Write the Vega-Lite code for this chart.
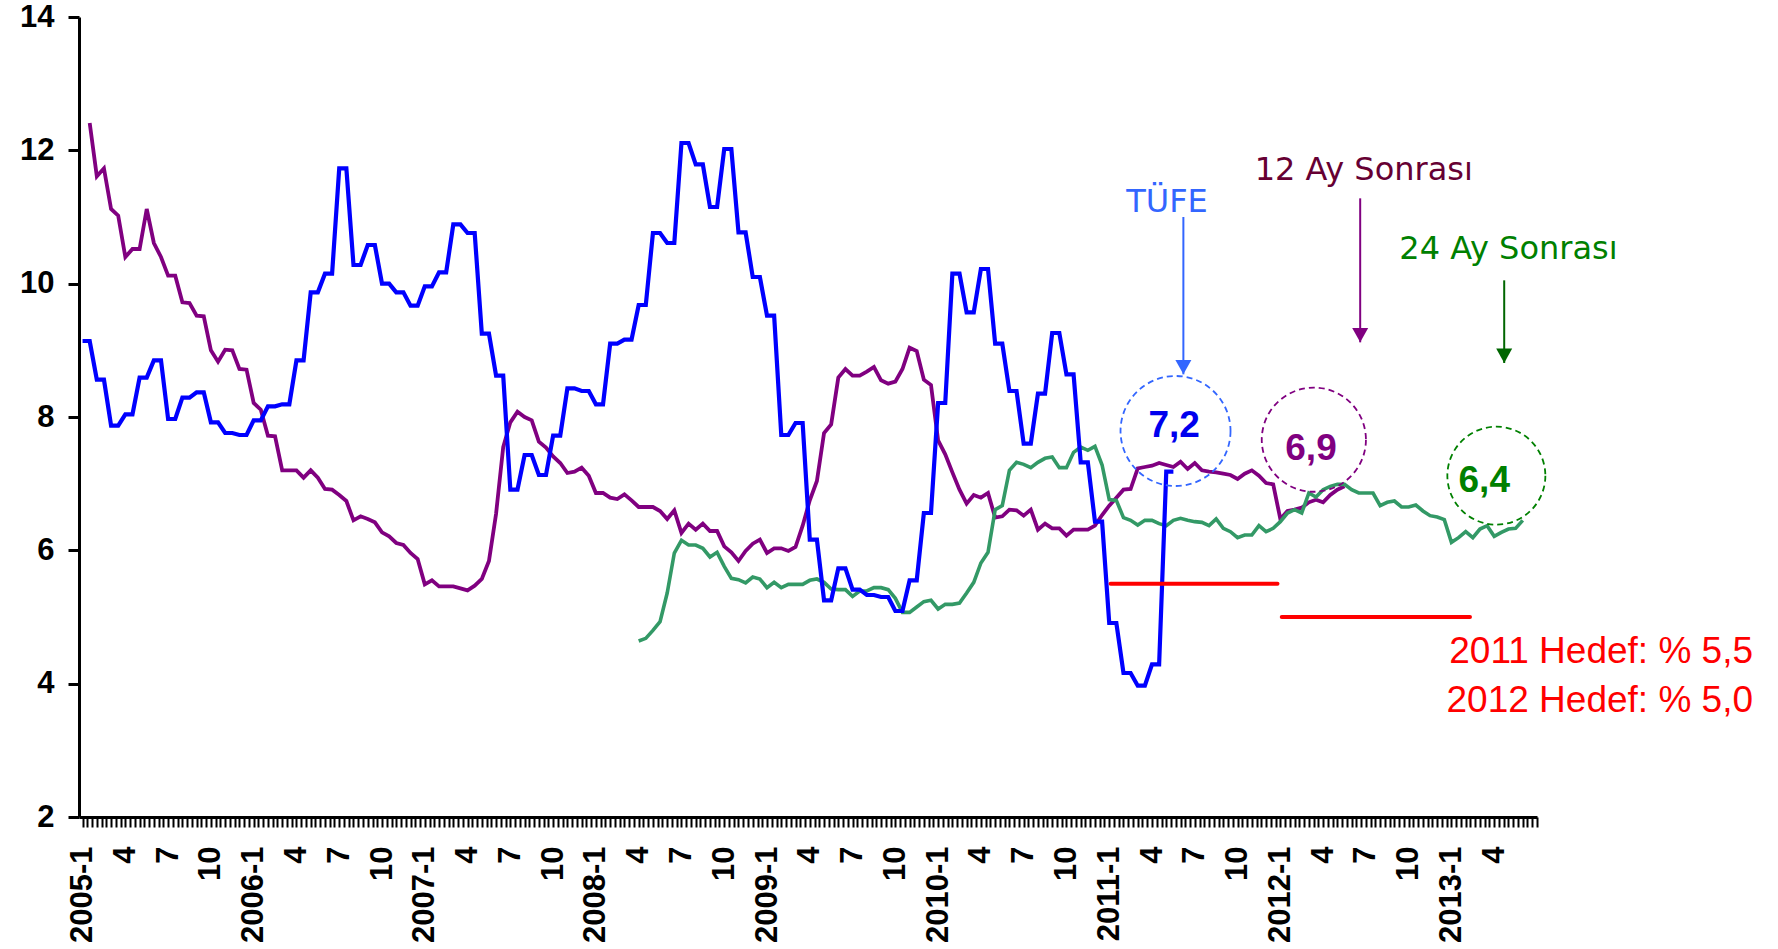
{
  "$schema": "https://vega.github.io/schema/vega-lite/v6.json",
  "width": 1458,
  "height": 800,
  "autosize": {"type": "none"},
  "padding": {"left": 79, "top": 17, "right": 241, "bottom": 132},
  "background": "white",
  "config": {"view": {"stroke": null}},
  "datasets": {
    "seriler": [
      {"seri":"TÜFE","k":0,"v":9.14},{"seri":"TÜFE","k":1,"v":9.14},{"seri":"TÜFE","k":2,"v":8.56},{"seri":"TÜFE","k":3,"v":8.56},{"seri":"TÜFE","k":4,"v":7.87},{"seri":"TÜFE","k":5,"v":7.87},{"seri":"TÜFE","k":6,"v":8.04},{"seri":"TÜFE","k":7,"v":8.04},{"seri":"TÜFE","k":8,"v":8.59},{"seri":"TÜFE","k":9,"v":8.59},{"seri":"TÜFE","k":10,"v":8.85},{"seri":"TÜFE","k":11,"v":8.85},{"seri":"TÜFE","k":12,"v":7.97},{"seri":"TÜFE","k":13,"v":7.97},{"seri":"TÜFE","k":14,"v":8.29},{"seri":"TÜFE","k":15,"v":8.29},{"seri":"TÜFE","k":16,"v":8.37},{"seri":"TÜFE","k":17,"v":8.37},{"seri":"TÜFE","k":18,"v":7.92},{"seri":"TÜFE","k":19,"v":7.92},{"seri":"TÜFE","k":20,"v":7.76},{"seri":"TÜFE","k":21,"v":7.76},{"seri":"TÜFE","k":22,"v":7.73},{"seri":"TÜFE","k":23,"v":7.73},{"seri":"TÜFE","k":24,"v":7.95},{"seri":"TÜFE","k":25,"v":7.95},{"seri":"TÜFE","k":26,"v":8.16},{"seri":"TÜFE","k":27,"v":8.16},{"seri":"TÜFE","k":28,"v":8.19},{"seri":"TÜFE","k":29,"v":8.19},{"seri":"TÜFE","k":30,"v":8.85},{"seri":"TÜFE","k":31,"v":8.85},{"seri":"TÜFE","k":32,"v":9.87},{"seri":"TÜFE","k":33,"v":9.87},{"seri":"TÜFE","k":34,"v":10.15},{"seri":"TÜFE","k":35,"v":10.15},{"seri":"TÜFE","k":36,"v":11.73},{"seri":"TÜFE","k":37,"v":11.73},{"seri":"TÜFE","k":38,"v":10.28},{"seri":"TÜFE","k":39,"v":10.28},{"seri":"TÜFE","k":40,"v":10.58},{"seri":"TÜFE","k":41,"v":10.58},{"seri":"TÜFE","k":42,"v":10.0},{"seri":"TÜFE","k":43,"v":10.0},{"seri":"TÜFE","k":44,"v":9.87},{"seri":"TÜFE","k":45,"v":9.87},{"seri":"TÜFE","k":46,"v":9.67},{"seri":"TÜFE","k":47,"v":9.67},{"seri":"TÜFE","k":48,"v":9.96},{"seri":"TÜFE","k":49,"v":9.96},{"seri":"TÜFE","k":50,"v":10.17},{"seri":"TÜFE","k":51,"v":10.17},{"seri":"TÜFE","k":52,"v":10.89},{"seri":"TÜFE","k":53,"v":10.89},{"seri":"TÜFE","k":54,"v":10.76},{"seri":"TÜFE","k":55,"v":10.76},{"seri":"TÜFE","k":56,"v":9.25},{"seri":"TÜFE","k":57,"v":9.25},{"seri":"TÜFE","k":58,"v":8.62},{"seri":"TÜFE","k":59,"v":8.62},{"seri":"TÜFE","k":60,"v":6.91},{"seri":"TÜFE","k":61,"v":6.91},{"seri":"TÜFE","k":62,"v":7.43},{"seri":"TÜFE","k":63,"v":7.43},{"seri":"TÜFE","k":64,"v":7.13},{"seri":"TÜFE","k":65,"v":7.13},{"seri":"TÜFE","k":66,"v":7.72},{"seri":"TÜFE","k":67,"v":7.72},{"seri":"TÜFE","k":68,"v":8.43},{"seri":"TÜFE","k":69,"v":8.43},{"seri":"TÜFE","k":70,"v":8.39},{"seri":"TÜFE","k":71,"v":8.39},{"seri":"TÜFE","k":72,"v":8.19},{"seri":"TÜFE","k":73,"v":8.19},{"seri":"TÜFE","k":74,"v":9.1},{"seri":"TÜFE","k":75,"v":9.1},{"seri":"TÜFE","k":76,"v":9.16},{"seri":"TÜFE","k":77,"v":9.16},{"seri":"TÜFE","k":78,"v":9.68},{"seri":"TÜFE","k":79,"v":9.68},{"seri":"TÜFE","k":80,"v":10.76},{"seri":"TÜFE","k":81,"v":10.76},{"seri":"TÜFE","k":82,"v":10.61},{"seri":"TÜFE","k":83,"v":10.61},{"seri":"TÜFE","k":84,"v":12.11},{"seri":"TÜFE","k":85,"v":12.11},{"seri":"TÜFE","k":86,"v":11.79},{"seri":"TÜFE","k":87,"v":11.79},{"seri":"TÜFE","k":88,"v":11.15},{"seri":"TÜFE","k":89,"v":11.15},{"seri":"TÜFE","k":90,"v":12.02},{"seri":"TÜFE","k":91,"v":12.02},{"seri":"TÜFE","k":92,"v":10.77},{"seri":"TÜFE","k":93,"v":10.77},{"seri":"TÜFE","k":94,"v":10.1},{"seri":"TÜFE","k":95,"v":10.1},{"seri":"TÜFE","k":96,"v":9.52},{"seri":"TÜFE","k":97,"v":9.52},{"seri":"TÜFE","k":98,"v":7.73},{"seri":"TÜFE","k":99,"v":7.73},{"seri":"TÜFE","k":100,"v":7.91},{"seri":"TÜFE","k":101,"v":7.91},{"seri":"TÜFE","k":102,"v":6.16},{"seri":"TÜFE","k":103,"v":6.16},{"seri":"TÜFE","k":104,"v":5.25},{"seri":"TÜFE","k":105,"v":5.25},{"seri":"TÜFE","k":106,"v":5.73},{"seri":"TÜFE","k":107,"v":5.73},{"seri":"TÜFE","k":108,"v":5.41},{"seri":"TÜFE","k":109,"v":5.41},{"seri":"TÜFE","k":110,"v":5.33},{"seri":"TÜFE","k":111,"v":5.33},{"seri":"TÜFE","k":112,"v":5.3},{"seri":"TÜFE","k":113,"v":5.3},{"seri":"TÜFE","k":114,"v":5.09},{"seri":"TÜFE","k":115,"v":5.09},{"seri":"TÜFE","k":116,"v":5.55},{"seri":"TÜFE","k":117,"v":5.55},{"seri":"TÜFE","k":118,"v":6.56},{"seri":"TÜFE","k":119,"v":6.56},{"seri":"TÜFE","k":120,"v":8.21},{"seri":"TÜFE","k":121,"v":8.21},{"seri":"TÜFE","k":122,"v":10.15},{"seri":"TÜFE","k":123,"v":10.15},{"seri":"TÜFE","k":124,"v":9.57},{"seri":"TÜFE","k":125,"v":9.57},{"seri":"TÜFE","k":126,"v":10.22},{"seri":"TÜFE","k":127,"v":10.22},{"seri":"TÜFE","k":128,"v":9.1},{"seri":"TÜFE","k":129,"v":9.1},{"seri":"TÜFE","k":130,"v":8.39},{"seri":"TÜFE","k":131,"v":8.39},{"seri":"TÜFE","k":132,"v":7.6},{"seri":"TÜFE","k":133,"v":7.6},{"seri":"TÜFE","k":134,"v":8.35},{"seri":"TÜFE","k":135,"v":8.35},{"seri":"TÜFE","k":136,"v":9.26},{"seri":"TÜFE","k":137,"v":9.26},{"seri":"TÜFE","k":138,"v":8.64},{"seri":"TÜFE","k":139,"v":8.64},{"seri":"TÜFE","k":140,"v":7.32},{"seri":"TÜFE","k":141,"v":7.32},{"seri":"TÜFE","k":142,"v":6.43},{"seri":"TÜFE","k":143,"v":6.43},{"seri":"TÜFE","k":144,"v":4.91},{"seri":"TÜFE","k":145,"v":4.91},{"seri":"TÜFE","k":146,"v":4.16},{"seri":"TÜFE","k":147,"v":4.16},{"seri":"TÜFE","k":148,"v":3.97},{"seri":"TÜFE","k":149,"v":3.97},{"seri":"TÜFE","k":150,"v":4.29},{"seri":"TÜFE","k":151,"v":4.29},{"seri":"TÜFE","k":152,"v":7.18},{"seri":"TÜFE","k":153,"v":7.18},
      {"seri":"12 Ay Sonrası","k":1,"v":12.41},{"seri":"12 Ay Sonrası","k":2,"v":11.61},{"seri":"12 Ay Sonrası","k":3,"v":11.73},{"seri":"12 Ay Sonrası","k":4,"v":11.12},{"seri":"12 Ay Sonrası","k":5,"v":11.02},{"seri":"12 Ay Sonrası","k":6,"v":10.4},{"seri":"12 Ay Sonrası","k":7,"v":10.52},{"seri":"12 Ay Sonrası","k":8,"v":10.52},{"seri":"12 Ay Sonrası","k":9,"v":11.12},{"seri":"12 Ay Sonrası","k":10,"v":10.61},{"seri":"12 Ay Sonrası","k":11,"v":10.4},{"seri":"12 Ay Sonrası","k":12,"v":10.12},{"seri":"12 Ay Sonrası","k":13,"v":10.12},{"seri":"12 Ay Sonrası","k":14,"v":9.72},{"seri":"12 Ay Sonrası","k":15,"v":9.71},{"seri":"12 Ay Sonrası","k":16,"v":9.52},{"seri":"12 Ay Sonrası","k":17,"v":9.51},{"seri":"12 Ay Sonrası","k":18,"v":9.0},{"seri":"12 Ay Sonrası","k":19,"v":8.83},{"seri":"12 Ay Sonrası","k":20,"v":9.01},{"seri":"12 Ay Sonrası","k":21,"v":9.0},{"seri":"12 Ay Sonrası","k":22,"v":8.72},{"seri":"12 Ay Sonrası","k":23,"v":8.71},{"seri":"12 Ay Sonrası","k":24,"v":8.21},{"seri":"12 Ay Sonrası","k":25,"v":8.11},{"seri":"12 Ay Sonrası","k":26,"v":7.72},{"seri":"12 Ay Sonrası","k":27,"v":7.71},{"seri":"12 Ay Sonrası","k":28,"v":7.2},{"seri":"12 Ay Sonrası","k":29,"v":7.2},{"seri":"12 Ay Sonrası","k":30,"v":7.2},{"seri":"12 Ay Sonrası","k":31,"v":7.09},{"seri":"12 Ay Sonrası","k":32,"v":7.2},{"seri":"12 Ay Sonrası","k":33,"v":7.09},{"seri":"12 Ay Sonrası","k":34,"v":6.92},{"seri":"12 Ay Sonrası","k":35,"v":6.91},{"seri":"12 Ay Sonrası","k":36,"v":6.83},{"seri":"12 Ay Sonrası","k":37,"v":6.74},{"seri":"12 Ay Sonrası","k":38,"v":6.45},{"seri":"12 Ay Sonrası","k":39,"v":6.51},{"seri":"12 Ay Sonrası","k":40,"v":6.47},{"seri":"12 Ay Sonrası","k":41,"v":6.42},{"seri":"12 Ay Sonrası","k":42,"v":6.27},{"seri":"12 Ay Sonrası","k":43,"v":6.21},{"seri":"12 Ay Sonrası","k":44,"v":6.11},{"seri":"12 Ay Sonrası","k":45,"v":6.08},{"seri":"12 Ay Sonrası","k":46,"v":5.96},{"seri":"12 Ay Sonrası","k":47,"v":5.87},{"seri":"12 Ay Sonrası","k":48,"v":5.49},{"seri":"12 Ay Sonrası","k":49,"v":5.55},{"seri":"12 Ay Sonrası","k":50,"v":5.46},{"seri":"12 Ay Sonrası","k":51,"v":5.46},{"seri":"12 Ay Sonrası","k":52,"v":5.46},{"seri":"12 Ay Sonrası","k":53,"v":5.43},{"seri":"12 Ay Sonrası","k":54,"v":5.4},{"seri":"12 Ay Sonrası","k":55,"v":5.47},{"seri":"12 Ay Sonrası","k":56,"v":5.57},{"seri":"12 Ay Sonrası","k":57,"v":5.84},{"seri":"12 Ay Sonrası","k":58,"v":6.55},{"seri":"12 Ay Sonrası","k":59,"v":7.55},{"seri":"12 Ay Sonrası","k":60,"v":7.92},{"seri":"12 Ay Sonrası","k":61,"v":8.08},{"seri":"12 Ay Sonrası","k":62,"v":8.0},{"seri":"12 Ay Sonrası","k":63,"v":7.95},{"seri":"12 Ay Sonrası","k":64,"v":7.63},{"seri":"12 Ay Sonrası","k":65,"v":7.54},{"seri":"12 Ay Sonrası","k":66,"v":7.41},{"seri":"12 Ay Sonrası","k":67,"v":7.31},{"seri":"12 Ay Sonrası","k":68,"v":7.16},{"seri":"12 Ay Sonrası","k":69,"v":7.18},{"seri":"12 Ay Sonrası","k":70,"v":7.24},{"seri":"12 Ay Sonrası","k":71,"v":7.12},{"seri":"12 Ay Sonrası","k":72,"v":6.86},{"seri":"12 Ay Sonrası","k":73,"v":6.86},{"seri":"12 Ay Sonrası","k":74,"v":6.79},{"seri":"12 Ay Sonrası","k":75,"v":6.77},{"seri":"12 Ay Sonrası","k":76,"v":6.84},{"seri":"12 Ay Sonrası","k":77,"v":6.75},{"seri":"12 Ay Sonrası","k":78,"v":6.65},{"seri":"12 Ay Sonrası","k":79,"v":6.65},{"seri":"12 Ay Sonrası","k":80,"v":6.65},{"seri":"12 Ay Sonrası","k":81,"v":6.59},{"seri":"12 Ay Sonrası","k":82,"v":6.47},{"seri":"12 Ay Sonrası","k":83,"v":6.6},{"seri":"12 Ay Sonrası","k":84,"v":6.26},{"seri":"12 Ay Sonrası","k":85,"v":6.4},{"seri":"12 Ay Sonrası","k":86,"v":6.31},{"seri":"12 Ay Sonrası","k":87,"v":6.4},{"seri":"12 Ay Sonrası","k":88,"v":6.29},{"seri":"12 Ay Sonrası","k":89,"v":6.29},{"seri":"12 Ay Sonrası","k":90,"v":6.06},{"seri":"12 Ay Sonrası","k":91,"v":5.97},{"seri":"12 Ay Sonrası","k":92,"v":5.84},{"seri":"12 Ay Sonrası","k":93,"v":5.99},{"seri":"12 Ay Sonrası","k":94,"v":6.1},{"seri":"12 Ay Sonrası","k":95,"v":6.16},{"seri":"12 Ay Sonrası","k":96,"v":5.96},{"seri":"12 Ay Sonrası","k":97,"v":6.03},{"seri":"12 Ay Sonrası","k":98,"v":6.03},{"seri":"12 Ay Sonrası","k":99,"v":5.99},{"seri":"12 Ay Sonrası","k":100,"v":6.05},{"seri":"12 Ay Sonrası","k":101,"v":6.37},{"seri":"12 Ay Sonrası","k":102,"v":6.75},{"seri":"12 Ay Sonrası","k":103,"v":7.04},{"seri":"12 Ay Sonrası","k":104,"v":7.76},{"seri":"12 Ay Sonrası","k":105,"v":7.89},{"seri":"12 Ay Sonrası","k":106,"v":8.59},{"seri":"12 Ay Sonrası","k":107,"v":8.72},{"seri":"12 Ay Sonrası","k":108,"v":8.62},{"seri":"12 Ay Sonrası","k":109,"v":8.62},{"seri":"12 Ay Sonrası","k":110,"v":8.68},{"seri":"12 Ay Sonrası","k":111,"v":8.75},{"seri":"12 Ay Sonrası","k":112,"v":8.55},{"seri":"12 Ay Sonrası","k":113,"v":8.5},{"seri":"12 Ay Sonrası","k":114,"v":8.53},{"seri":"12 Ay Sonrası","k":115,"v":8.72},{"seri":"12 Ay Sonrası","k":116,"v":9.04},{"seri":"12 Ay Sonrası","k":117,"v":8.99},{"seri":"12 Ay Sonrası","k":118,"v":8.56},{"seri":"12 Ay Sonrası","k":119,"v":8.48},{"seri":"12 Ay Sonrası","k":120,"v":7.65},{"seri":"12 Ay Sonrası","k":121,"v":7.44},{"seri":"12 Ay Sonrası","k":122,"v":7.17},{"seri":"12 Ay Sonrası","k":123,"v":6.91},{"seri":"12 Ay Sonrası","k":124,"v":6.7},{"seri":"12 Ay Sonrası","k":125,"v":6.83},{"seri":"12 Ay Sonrası","k":126,"v":6.79},{"seri":"12 Ay Sonrası","k":127,"v":6.86},{"seri":"12 Ay Sonrası","k":128,"v":6.49},{"seri":"12 Ay Sonrası","k":129,"v":6.51},{"seri":"12 Ay Sonrası","k":130,"v":6.61},{"seri":"12 Ay Sonrası","k":131,"v":6.6},{"seri":"12 Ay Sonrası","k":132,"v":6.52},{"seri":"12 Ay Sonrası","k":133,"v":6.61},{"seri":"12 Ay Sonrası","k":134,"v":6.31},{"seri":"12 Ay Sonrası","k":135,"v":6.4},{"seri":"12 Ay Sonrası","k":136,"v":6.33},{"seri":"12 Ay Sonrası","k":137,"v":6.33},{"seri":"12 Ay Sonrası","k":138,"v":6.22},{"seri":"12 Ay Sonrası","k":139,"v":6.31},{"seri":"12 Ay Sonrası","k":140,"v":6.31},{"seri":"12 Ay Sonrası","k":141,"v":6.31},{"seri":"12 Ay Sonrası","k":142,"v":6.37},{"seri":"12 Ay Sonrası","k":143,"v":6.53},{"seri":"12 Ay Sonrası","k":144,"v":6.67},{"seri":"12 Ay Sonrası","k":145,"v":6.79},{"seri":"12 Ay Sonrası","k":146,"v":6.91},{"seri":"12 Ay Sonrası","k":147,"v":6.92},{"seri":"12 Ay Sonrası","k":148,"v":7.23},{"seri":"12 Ay Sonrası","k":149,"v":7.25},{"seri":"12 Ay Sonrası","k":150,"v":7.27},{"seri":"12 Ay Sonrası","k":151,"v":7.31},{"seri":"12 Ay Sonrası","k":152,"v":7.28},{"seri":"12 Ay Sonrası","k":153,"v":7.25},{"seri":"12 Ay Sonrası","k":154,"v":7.33},{"seri":"12 Ay Sonrası","k":155,"v":7.22},{"seri":"12 Ay Sonrası","k":156,"v":7.31},{"seri":"12 Ay Sonrası","k":157,"v":7.2},{"seri":"12 Ay Sonrası","k":158,"v":7.18},{"seri":"12 Ay Sonrası","k":159,"v":7.17},{"seri":"12 Ay Sonrası","k":160,"v":7.15},{"seri":"12 Ay Sonrası","k":161,"v":7.13},{"seri":"12 Ay Sonrası","k":162,"v":7.07},{"seri":"12 Ay Sonrası","k":163,"v":7.15},{"seri":"12 Ay Sonrası","k":164,"v":7.2},{"seri":"12 Ay Sonrası","k":165,"v":7.12},{"seri":"12 Ay Sonrası","k":166,"v":7.01},{"seri":"12 Ay Sonrası","k":167,"v":6.99},{"seri":"12 Ay Sonrası","k":168,"v":6.47},{"seri":"12 Ay Sonrası","k":169,"v":6.59},{"seri":"12 Ay Sonrası","k":170,"v":6.61},{"seri":"12 Ay Sonrası","k":171,"v":6.64},{"seri":"12 Ay Sonrası","k":172,"v":6.72},{"seri":"12 Ay Sonrası","k":173,"v":6.76},{"seri":"12 Ay Sonrası","k":174,"v":6.72},{"seri":"12 Ay Sonrası","k":175,"v":6.83},{"seri":"12 Ay Sonrası","k":176,"v":6.91},{"seri":"12 Ay Sonrası","k":177,"v":6.96},
      {"seri":"24 Ay Sonrası","k":78,"v":4.64},{"seri":"24 Ay Sonrası","k":79,"v":4.68},{"seri":"24 Ay Sonrası","k":80,"v":4.8},{"seri":"24 Ay Sonrası","k":81,"v":4.93},{"seri":"24 Ay Sonrası","k":82,"v":5.36},{"seri":"24 Ay Sonrası","k":83,"v":5.96},{"seri":"24 Ay Sonrası","k":84,"v":6.15},{"seri":"24 Ay Sonrası","k":85,"v":6.08},{"seri":"24 Ay Sonrası","k":86,"v":6.08},{"seri":"24 Ay Sonrası","k":87,"v":6.03},{"seri":"24 Ay Sonrası","k":88,"v":5.9},{"seri":"24 Ay Sonrası","k":89,"v":5.97},{"seri":"24 Ay Sonrası","k":90,"v":5.76},{"seri":"24 Ay Sonrası","k":91,"v":5.58},{"seri":"24 Ay Sonrası","k":92,"v":5.56},{"seri":"24 Ay Sonrası","k":93,"v":5.51},{"seri":"24 Ay Sonrası","k":94,"v":5.6},{"seri":"24 Ay Sonrası","k":95,"v":5.57},{"seri":"24 Ay Sonrası","k":96,"v":5.44},{"seri":"24 Ay Sonrası","k":97,"v":5.52},{"seri":"24 Ay Sonrası","k":98,"v":5.44},{"seri":"24 Ay Sonrası","k":99,"v":5.49},{"seri":"24 Ay Sonrası","k":100,"v":5.49},{"seri":"24 Ay Sonrası","k":101,"v":5.49},{"seri":"24 Ay Sonrası","k":102,"v":5.55},{"seri":"24 Ay Sonrası","k":103,"v":5.57},{"seri":"24 Ay Sonrası","k":104,"v":5.52},{"seri":"24 Ay Sonrası","k":105,"v":5.42},{"seri":"24 Ay Sonrası","k":106,"v":5.41},{"seri":"24 Ay Sonrası","k":107,"v":5.41},{"seri":"24 Ay Sonrası","k":108,"v":5.31},{"seri":"24 Ay Sonrası","k":109,"v":5.39},{"seri":"24 Ay Sonrası","k":110,"v":5.39},{"seri":"24 Ay Sonrası","k":111,"v":5.44},{"seri":"24 Ay Sonrası","k":112,"v":5.44},{"seri":"24 Ay Sonrası","k":113,"v":5.41},{"seri":"24 Ay Sonrası","k":114,"v":5.28},{"seri":"24 Ay Sonrası","k":115,"v":5.07},{"seri":"24 Ay Sonrası","k":116,"v":5.07},{"seri":"24 Ay Sonrası","k":117,"v":5.15},{"seri":"24 Ay Sonrası","k":118,"v":5.23},{"seri":"24 Ay Sonrası","k":119,"v":5.25},{"seri":"24 Ay Sonrası","k":120,"v":5.12},{"seri":"24 Ay Sonrası","k":121,"v":5.19},{"seri":"24 Ay Sonrası","k":122,"v":5.19},{"seri":"24 Ay Sonrası","k":123,"v":5.21},{"seri":"24 Ay Sonrası","k":124,"v":5.36},{"seri":"24 Ay Sonrası","k":125,"v":5.52},{"seri":"24 Ay Sonrası","k":126,"v":5.81},{"seri":"24 Ay Sonrası","k":127,"v":5.97},{"seri":"24 Ay Sonrası","k":128,"v":6.61},{"seri":"24 Ay Sonrası","k":129,"v":6.67},{"seri":"24 Ay Sonrası","k":130,"v":7.2},{"seri":"24 Ay Sonrası","k":131,"v":7.32},{"seri":"24 Ay Sonrası","k":132,"v":7.29},{"seri":"24 Ay Sonrası","k":133,"v":7.24},{"seri":"24 Ay Sonrası","k":134,"v":7.32},{"seri":"24 Ay Sonrası","k":135,"v":7.38},{"seri":"24 Ay Sonrası","k":136,"v":7.4},{"seri":"24 Ay Sonrası","k":137,"v":7.24},{"seri":"24 Ay Sonrası","k":138,"v":7.24},{"seri":"24 Ay Sonrası","k":139,"v":7.47},{"seri":"24 Ay Sonrası","k":140,"v":7.55},{"seri":"24 Ay Sonrası","k":141,"v":7.5},{"seri":"24 Ay Sonrası","k":142,"v":7.56},{"seri":"24 Ay Sonrası","k":143,"v":7.28},{"seri":"24 Ay Sonrası","k":144,"v":6.76},{"seri":"24 Ay Sonrası","k":145,"v":6.75},{"seri":"24 Ay Sonrası","k":146,"v":6.49},{"seri":"24 Ay Sonrası","k":147,"v":6.45},{"seri":"24 Ay Sonrası","k":148,"v":6.38},{"seri":"24 Ay Sonrası","k":149,"v":6.45},{"seri":"24 Ay Sonrası","k":150,"v":6.45},{"seri":"24 Ay Sonrası","k":151,"v":6.4},{"seri":"24 Ay Sonrası","k":152,"v":6.37},{"seri":"24 Ay Sonrası","k":153,"v":6.45},{"seri":"24 Ay Sonrası","k":154,"v":6.48},{"seri":"24 Ay Sonrası","k":155,"v":6.45},{"seri":"24 Ay Sonrası","k":156,"v":6.43},{"seri":"24 Ay Sonrası","k":157,"v":6.42},{"seri":"24 Ay Sonrası","k":158,"v":6.37},{"seri":"24 Ay Sonrası","k":159,"v":6.47},{"seri":"24 Ay Sonrası","k":160,"v":6.33},{"seri":"24 Ay Sonrası","k":161,"v":6.28},{"seri":"24 Ay Sonrası","k":162,"v":6.19},{"seri":"24 Ay Sonrası","k":163,"v":6.23},{"seri":"24 Ay Sonrası","k":164,"v":6.23},{"seri":"24 Ay Sonrası","k":165,"v":6.37},{"seri":"24 Ay Sonrası","k":166,"v":6.28},{"seri":"24 Ay Sonrası","k":167,"v":6.33},{"seri":"24 Ay Sonrası","k":168,"v":6.43},{"seri":"24 Ay Sonrası","k":169,"v":6.56},{"seri":"24 Ay Sonrası","k":170,"v":6.61},{"seri":"24 Ay Sonrası","k":171,"v":6.56},{"seri":"24 Ay Sonrası","k":172,"v":6.86},{"seri":"24 Ay Sonrası","k":173,"v":6.8},{"seri":"24 Ay Sonrası","k":174,"v":6.91},{"seri":"24 Ay Sonrası","k":175,"v":6.96},{"seri":"24 Ay Sonrası","k":176,"v":6.99},{"seri":"24 Ay Sonrası","k":177,"v":6.99},{"seri":"24 Ay Sonrası","k":178,"v":6.91},{"seri":"24 Ay Sonrası","k":179,"v":6.86},{"seri":"24 Ay Sonrası","k":180,"v":6.86},{"seri":"24 Ay Sonrası","k":181,"v":6.86},{"seri":"24 Ay Sonrası","k":182,"v":6.67},{"seri":"24 Ay Sonrası","k":183,"v":6.72},{"seri":"24 Ay Sonrası","k":184,"v":6.74},{"seri":"24 Ay Sonrası","k":185,"v":6.65},{"seri":"24 Ay Sonrası","k":186,"v":6.65},{"seri":"24 Ay Sonrası","k":187,"v":6.68},{"seri":"24 Ay Sonrası","k":188,"v":6.59},{"seri":"24 Ay Sonrası","k":189,"v":6.52},{"seri":"24 Ay Sonrası","k":190,"v":6.5},{"seri":"24 Ay Sonrası","k":191,"v":6.46},{"seri":"24 Ay Sonrası","k":192,"v":6.12},{"seri":"24 Ay Sonrası","k":193,"v":6.19},{"seri":"24 Ay Sonrası","k":194,"v":6.28},{"seri":"24 Ay Sonrası","k":195,"v":6.19},{"seri":"24 Ay Sonrası","k":196,"v":6.32},{"seri":"24 Ay Sonrası","k":197,"v":6.37},{"seri":"24 Ay Sonrası","k":198,"v":6.21},{"seri":"24 Ay Sonrası","k":199,"v":6.27},{"seri":"24 Ay Sonrası","k":200,"v":6.32},{"seri":"24 Ay Sonrası","k":201,"v":6.33},{"seri":"24 Ay Sonrası","k":202,"v":6.45}
    ],
    "hedefler": [
      {"yil":"2011","k":144.2,"v":5.5},{"yil":"2011","k":167.6,"v":5.5},
      {"yil":"2012","k":168.2,"v":5.0},{"yil":"2012","k":194.6,"v":5.0}
    ],
    "hedef_notlari": [
      {"metin":"2011 Hedef: % 5,5","k":234.3,"v":4.315},
      {"metin":"2012 Hedef: % 5,0","k":234.3,"v":3.58}
    ],
    "etiketler": [
      {"seri":"TÜFE","metin":"TÜFE","k":152.1,"v":11.23},
      {"seri":"12 Ay Sonrası","metin":"12 Ay Sonrası","k":179.7,"v":11.7},
      {"seri":"24 Ay Sonrası","metin":"24 Ay Sonrası","k":200.0,"v":10.52}
    ],
    "degerler": [
      {"seri":"TÜFE","metin":"7,2","k":153.1,"v":7.86},
      {"seri":"12 Ay Sonrası","metin":"6,9","k":172.3,"v":7.52},
      {"seri":"24 Ay Sonrası","metin":"6,4","k":196.6,"v":7.04}
    ],
    "halkalar": [
      {"seri":"TÜFE","k":153.3,"v":7.79},
      {"seri":"12 Ay Sonrası","k":172.7,"v":7.66},
      {"seri":"24 Ay Sonrası","k":198.3,"v":7.12}
    ],
    "oklar": [
      {"seri":"TÜFE","k":154.4,"v":11.0,"v2":8.64},
      {"seri":"12 Ay Sonrası","k":179.2,"v":11.28,"v2":9.12},
      {"seri":"24 Ay Sonrası","k":199.4,"v":10.05,"v2":8.81}
    ],
    "ok_uclari": [
      {"seri":"TÜFE","k":154.4,"v":8.64},
      {"seri":"12 Ay Sonrası","k":179.2,"v":9.12},
      {"seri":"24 Ay Sonrası","k":199.4,"v":8.81}
    ]
  },
  "encoding": {
    "x": {
      "field": "k", "type": "quantitative",
      "scale": {"domain": [-0.5, 204], "nice": false, "zero": false},
      "axis": {
        "title": null, "grid": false,
        "values": [0,0.667,1.333,2,2.667,3.333,4,4.667,5.333,6,6.667,7.333,8,8.667,9.333,10,10.667,11.333,12,12.667,13.333,14,14.667,15.333,16,16.667,17.333,18,18.667,19.333,20,20.667,21.333,22,22.667,23.333,24,24.667,25.333,26,26.667,27.333,28,28.667,29.333,30,30.667,31.333,32,32.667,33.333,34,34.667,35.333,36,36.667,37.333,38,38.667,39.333,40,40.667,41.333,42,42.667,43.333,44,44.667,45.333,46,46.667,47.333,48,48.667,49.333,50,50.667,51.333,52,52.667,53.333,54,54.667,55.333,56,56.667,57.333,58,58.667,59.333,60,60.667,61.333,62,62.667,63.333,64,64.667,65.333,66,66.667,67.333,68,68.667,69.333,70,70.667,71.333,72,72.667,73.333,74,74.667,75.333,76,76.667,77.333,78,78.667,79.333,80,80.667,81.333,82,82.667,83.333,84,84.667,85.333,86,86.667,87.333,88,88.667,89.333,90,90.667,91.333,92,92.667,93.333,94,94.667,95.333,96,96.667,97.333,98,98.667,99.333,100,100.667,101.333,102,102.667,103.333,104,104.667,105.333,106,106.667,107.333,108,108.667,109.333,110,110.667,111.333,112,112.667,113.333,114,114.667,115.333,116,116.667,117.333,118,118.667,119.333,120,120.667,121.333,122,122.667,123.333,124,124.667,125.333,126,126.667,127.333,128,128.667,129.333,130,130.667,131.333,132,132.667,133.333,134,134.667,135.333,136,136.667,137.333,138,138.667,139.333,140,140.667,141.333,142,142.667,143.333,144,144.667,145.333,146,146.667,147.333,148,148.667,149.333,150,150.667,151.333,152,152.667,153.333,154,154.667,155.333,156,156.667,157.333,158,158.667,159.333,160,160.667,161.333,162,162.667,163.333,164,164.667,165.333,166,166.667,167.333,168,168.667,169.333,170,170.667,171.333,172,172.667,173.333,174,174.667,175.333,176,176.667,177.333,178,178.667,179.333,180,180.667,181.333,182,182.667,183.333,184,184.667,185.333,186,186.667,187.333,188,188.667,189.333,190,190.667,191.333,192,192.667,193.333,194,194.667,195.333,196,196.667,197.333,198,198.667,199.333,200,200.667,201.333,202,202.667,203.333,204],
        "labelExpr": "(datum.value % 6 == 0 && datum.value <= 198) ? (((datum.value / 2) % 12 == 0) ? ((2005 + floor(datum.value / 24)) + '-1') : ('' + ((datum.value / 2) % 12 + 1))) : ''",
        "labelAngle": 270, "labelAlign": "right", "labelBaseline": "middle",
        "labelOverlap": false, "labelFlush": false, "labelBound": false,
        "labelFont": "Liberation Sans", "labelFontWeight": "bold", "labelFontSize": 31, "labelColor": "black",
        "labelPadding": 19,
        "tickSize": 10, "tickWidth": 2, "tickColor": "black",
        "domainWidth": 3, "domainColor": "black"
      }
    },
    "y": {
      "field": "v", "type": "quantitative",
      "scale": {"domain": [2, 14], "nice": false, "zero": false},
      "axis": {
        "title": null, "grid": false,
        "values": [2, 4, 6, 8, 10, 12, 14],
        "labelFont": "Liberation Sans", "labelFontWeight": "bold", "labelFontSize": 31, "labelColor": "black",
        "labelPadding": 14, "labelFlush": false,
        "tickSize": 11, "tickWidth": 3, "tickColor": "black",
        "domainWidth": 3, "domainColor": "black"
      }
    }
  },
  "layer": [
    {
      "data": {"name": "seriler"},
      "transform": [{"filter": "datum.seri == '12 Ay Sonrası'"}],
      "mark": {"type": "line", "color": "#800080", "strokeWidth": 3.8},
      "encoding": {"order": {"field": "k", "type": "quantitative"}}
    },
    {
      "data": {"name": "seriler"},
      "transform": [{"filter": "datum.seri == '24 Ay Sonrası'"}],
      "mark": {"type": "line", "color": "#339966", "strokeWidth": 3.6},
      "encoding": {"order": {"field": "k", "type": "quantitative"}}
    },
    {
      "data": {"name": "seriler"},
      "transform": [{"filter": "datum.seri == 'TÜFE'"}],
      "mark": {"type": "line", "color": "#0000FF", "strokeWidth": 4.2},
      "encoding": {"order": {"field": "k", "type": "quantitative"}}
    },
    {
      "data": {"name": "hedefler"},
      "mark": {"type": "line", "color": "#FF0000", "strokeWidth": 4, "strokeCap": "round"},
      "encoding": {"detail": {"field": "yil", "type": "nominal"}}
    },
    {
      "data": {"name": "hedef_notlari"},
      "mark": {"type": "text", "align": "right", "baseline": "alphabetic", "font": "Liberation Sans", "fontSize": 37, "color": "#FF0000"},
      "encoding": {"text": {"field": "metin", "type": "nominal"}}
    },
    {
      "data": {"name": "oklar"},
      "mark": {"type": "rule", "strokeWidth": 2},
      "encoding": {
        "y2": {"field": "v2"},
        "color": {"field": "seri", "type": "nominal", "legend": null,
          "scale": {"domain": ["TÜFE", "12 Ay Sonrası", "24 Ay Sonrası"], "range": ["#3366FF", "#800080", "#006600"]}}
      }
    },
    {
      "data": {"name": "ok_uclari"},
      "mark": {"type": "point", "shape": "M-1,-1.8L1,-1.8L0,0Z", "filled": true, "opacity": 1, "size": 256, "strokeWidth": 0},
      "encoding": {
        "color": {"field": "seri", "type": "nominal", "legend": null,
          "scale": {"domain": ["TÜFE", "12 Ay Sonrası", "24 Ay Sonrası"], "range": ["#3366FF", "#800080", "#006600"]}}
      }
    },
    {
      "data": {"name": "halkalar"},
      "mark": {"type": "point", "shape": "circle", "filled": false, "opacity": 1, "strokeWidth": 1.8, "strokeDash": [6, 4]},
      "encoding": {
        "color": {"field": "seri", "type": "nominal", "legend": null,
          "scale": {"domain": ["TÜFE", "12 Ay Sonrası", "24 Ay Sonrası"], "range": ["#3366FF", "#800080", "#008000"]}},
        "size": {"field": "seri", "type": "nominal", "legend": null,
          "scale": {"domain": ["TÜFE", "12 Ay Sonrası", "24 Ay Sonrası"], "range": [12100, 9604, 12100]}}
      }
    },
    {
      "data": {"name": "degerler"},
      "mark": {"type": "text", "align": "center", "baseline": "middle", "font": "Liberation Sans", "fontWeight": "bold", "fontSize": 37},
      "encoding": {
        "text": {"field": "metin", "type": "nominal"},
        "color": {"field": "seri", "type": "nominal", "legend": null,
          "scale": {"domain": ["TÜFE", "12 Ay Sonrası", "24 Ay Sonrası"], "range": ["#0000EE", "#800080", "#008000"]}}
      }
    },
    {
      "data": {"name": "etiketler"},
      "mark": {"type": "text", "align": "center", "baseline": "middle", "font": "DejaVu Sans", "fontSize": 32},
      "encoding": {
        "text": {"field": "metin", "type": "nominal"},
        "color": {"field": "seri", "type": "nominal", "legend": null,
          "scale": {"domain": ["TÜFE", "12 Ay Sonrası", "24 Ay Sonrası"], "range": ["#3366FF", "#660033", "#008000"]}}
      }
    }
  ],
  "resolve": {"scale": {"color": "independent", "size": "independent"}}
}
